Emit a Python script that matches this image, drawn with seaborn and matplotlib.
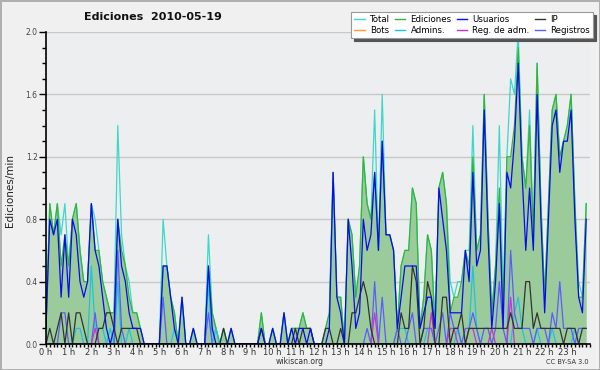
import numpy as np
import pandas as pd
import matplotlib
matplotlib.use('Agg')
import matplotlib.pyplot as plt
import seaborn as sns
from matplotlib.lines import Line2D
from matplotlib.ticker import MultipleLocator, FixedLocator

# franjas de 10 minutos (0 h 00 ... 23 h 50), valores en ediciones/min
minutos = np.arange(0, 24 * 60, 10)
horas_etiquetas = [f'{h} h' for h in range(24)]

total = [
    0.1, 0.9, 0.7, 0.9, 0.7, 0.9,   # 0 h
    0.5, 0.8, 0.9, 0.6, 0.4, 0.4,   # 1 h
    0.9, 0.8, 0.6, 0.4, 0.3, 0.2,   # 2 h
    0.2, 1.4, 0.7, 0.5, 0.4, 0.2,   # 3 h
    0.2, 0.1, 0.0, 0.0, 0.0, 0.0,   # 4 h
    0.0, 0.8, 0.5, 0.3, 0.2, 0.0,   # 5 h
    0.3, 0.0, 0.0, 0.1, 0.0, 0.0,   # 6 h
    0.0, 0.7, 0.2, 0.1, 0.0, 0.1,   # 7 h
    0.0, 0.1, 0.0, 0.0, 0.0, 0.0,   # 8 h
    0.0, 0.0, 0.0, 0.2, 0.0, 0.0,   # 9 h
    0.1, 0.0, 0.0, 0.2, 0.0, 0.1,   # 10 h
    0.1, 0.1, 0.2, 0.1, 0.1, 0.0,   # 11 h
    0.0, 0.0, 0.1, 0.2, 1.1, 0.3,   # 12 h
    0.3, 0.0, 0.8, 0.7, 0.3, 0.5,   # 13 h
    1.2, 0.9, 0.8, 1.5, 0.6, 1.6,   # 14 h
    0.7, 0.7, 0.6, 0.1, 0.5, 0.6,   # 15 h
    0.6, 1.0, 0.9, 0.1, 0.3, 0.7,   # 16 h
    0.6, 0.1, 1.0, 1.1, 0.9, 0.4,   # 17 h
    0.3, 0.4, 0.4, 0.6, 0.6, 1.4,   # 18 h
    0.6, 0.7, 1.6, 0.8, 0.2, 0.5,   # 19 h
    1.4, 0.3, 1.2, 1.7, 1.6, 2.0,   # 20 h
    1.2, 1.0, 1.5, 0.7, 1.8, 0.9,   # 21 h
    0.3, 0.9, 1.5, 1.6, 1.2, 1.3,   # 22 h
    1.4, 1.6, 0.9, 0.4, 0.3, 0.9,   # 23 h
]

ediciones = [
    0.1, 0.9, 0.7, 0.9, 0.5, 0.7,
    0.5, 0.8, 0.9, 0.6, 0.4, 0.4,
    0.9, 0.6, 0.6, 0.4, 0.3, 0.2,
    0.2, 0.8, 0.6, 0.5, 0.3, 0.2,
    0.2, 0.1, 0.0, 0.0, 0.0, 0.0,
    0.0, 0.5, 0.5, 0.3, 0.2, 0.0,
    0.3, 0.0, 0.0, 0.1, 0.0, 0.0,
    0.0, 0.5, 0.2, 0.1, 0.0, 0.1,
    0.0, 0.1, 0.0, 0.0, 0.0, 0.0,
    0.0, 0.0, 0.0, 0.2, 0.0, 0.0,
    0.1, 0.0, 0.0, 0.2, 0.0, 0.1,
    0.1, 0.1, 0.2, 0.1, 0.1, 0.0,
    0.0, 0.0, 0.1, 0.2, 1.1, 0.3,
    0.3, 0.0, 0.8, 0.7, 0.3, 0.5,
    1.2, 0.9, 0.8, 1.1, 0.6, 1.3,
    0.7, 0.7, 0.6, 0.1, 0.5, 0.6,
    0.6, 1.0, 0.9, 0.1, 0.3, 0.7,
    0.6, 0.1, 1.0, 1.1, 0.9, 0.2,
    0.3, 0.3, 0.4, 0.6, 0.5, 1.2,
    0.6, 0.7, 1.6, 0.8, 0.2, 0.5,
    1.0, 0.2, 1.2, 1.2, 1.4, 1.9,
    1.2, 1.0, 1.4, 0.7, 1.8, 0.9,
    0.3, 0.9, 1.5, 1.6, 1.2, 1.3,
    1.4, 1.6, 0.9, 0.3, 0.3, 0.9,
]

usuarios = [
    0.1, 0.8, 0.7, 0.8, 0.3, 0.7,
    0.3, 0.8, 0.7, 0.4, 0.3, 0.4,
    0.9, 0.6, 0.5, 0.3, 0.1, 0.0,
    0.1, 0.8, 0.5, 0.4, 0.2, 0.1,
    0.1, 0.1, 0.0, 0.0, 0.0, 0.0,
    0.0, 0.5, 0.5, 0.3, 0.1, 0.0,
    0.3, 0.0, 0.0, 0.1, 0.0, 0.0,
    0.0, 0.5, 0.1, 0.0, 0.0, 0.0,
    0.0, 0.1, 0.0, 0.0, 0.0, 0.0,
    0.0, 0.0, 0.0, 0.1, 0.0, 0.0,
    0.1, 0.0, 0.0, 0.2, 0.0, 0.1,
    0.0, 0.1, 0.1, 0.0, 0.1, 0.0,
    0.0, 0.0, 0.0, 0.1, 1.1, 0.3,
    0.2, 0.0, 0.8, 0.5, 0.1, 0.2,
    0.8, 0.6, 0.7, 1.1, 0.6, 1.3,
    0.7, 0.7, 0.6, 0.1, 0.3, 0.5,
    0.5, 0.5, 0.5, 0.1, 0.2, 0.3,
    0.3, 0.1, 1.0, 0.8, 0.6, 0.2,
    0.2, 0.2, 0.2, 0.6, 0.4, 1.1,
    0.5, 0.6, 1.5, 0.7, 0.1, 0.4,
    0.9, 0.1, 1.1, 1.0, 1.3, 1.8,
    1.1, 0.6, 1.0, 0.6, 1.6, 0.8,
    0.2, 0.8, 1.4, 1.5, 1.1, 1.3,
    1.3, 1.5, 0.8, 0.3, 0.2, 0.8,
]

ip = [
    0.0, 0.1, 0.0, 0.1, 0.2, 0.0,
    0.2, 0.0, 0.2, 0.2, 0.1, 0.0,
    0.0, 0.0, 0.1, 0.1, 0.2, 0.2,
    0.1, 0.0, 0.1, 0.1, 0.1, 0.1,
    0.1, 0.0, 0.0, 0.0, 0.0, 0.0,
    0.0, 0.0, 0.0, 0.0, 0.0, 0.0,
    0.0, 0.0, 0.0, 0.0, 0.0, 0.0,
    0.0, 0.0, 0.0, 0.0, 0.0, 0.1,
    0.0, 0.0, 0.0, 0.0, 0.0, 0.0,
    0.0, 0.0, 0.0, 0.1, 0.0, 0.0,
    0.0, 0.0, 0.0, 0.0, 0.0, 0.0,
    0.1, 0.0, 0.1, 0.1, 0.1, 0.0,
    0.0, 0.0, 0.1, 0.1, 0.0, 0.0,
    0.1, 0.0, 0.0, 0.2, 0.2, 0.3,
    0.4, 0.3, 0.1, 0.0, 0.0, 0.0,
    0.0, 0.0, 0.0, 0.0, 0.2, 0.1,
    0.1, 0.5, 0.4, 0.0, 0.1, 0.4,
    0.3, 0.0, 0.0, 0.3, 0.3, 0.0,
    0.1, 0.1, 0.2, 0.0, 0.1, 0.1,
    0.1, 0.1, 0.1, 0.1, 0.1, 0.1,
    0.1, 0.1, 0.1, 0.2, 0.1, 0.1,
    0.1, 0.4, 0.4, 0.1, 0.2, 0.1,
    0.1, 0.1, 0.1, 0.1, 0.1, 0.0,
    0.1, 0.1, 0.1, 0.0, 0.1, 0.1,
]

bots = [
    0.0, 0.0, 0.0, 0.0, 0.0, 0.0,
    0.0, 0.0, 0.0, 0.0, 0.0, 0.0,
    0.0, 0.0, 0.0, 0.0, 0.0, 0.0,
    0.0, 0.0, 0.0, 0.0, 0.0, 0.0,
    0.0, 0.0, 0.0, 0.0, 0.0, 0.0,
    0.0, 0.0, 0.0, 0.0, 0.0, 0.0,
    0.0, 0.0, 0.0, 0.0, 0.0, 0.0,
    0.0, 0.0, 0.0, 0.0, 0.0, 0.0,
    0.0, 0.0, 0.0, 0.0, 0.0, 0.0,
    0.0, 0.0, 0.0, 0.0, 0.0, 0.0,
    0.0, 0.0, 0.0, 0.0, 0.0, 0.0,
    0.0, 0.0, 0.0, 0.0, 0.0, 0.0,
    0.0, 0.0, 0.0, 0.0, 0.0, 0.0,
    0.0, 0.0, 0.0, 0.0, 0.0, 0.0,
    0.0, 0.0, 0.0, 0.0, 0.0, 0.0,
    0.0, 0.0, 0.0, 0.0, 0.0, 0.0,
    0.0, 0.0, 0.0, 0.0, 0.0, 0.0,
    0.0, 0.0, 0.0, 0.0, 0.0, 0.0,
    0.0, 0.0, 0.0, 0.0, 0.0, 0.0,
    0.0, 0.0, 0.0, 0.0, 0.0, 0.0,
    0.0, 0.0, 0.0, 0.0, 0.0, 0.0,
    0.0, 0.0, 0.0, 0.0, 0.0, 0.0,
    0.0, 0.0, 0.0, 0.0, 0.0, 0.0,
    0.0, 0.0, 0.0, 0.0, 0.0, 0.0,
]

admins = [
    0.0, 0.0, 0.0, 0.0, 0.0, 0.0,
    0.0, 0.0, 0.1, 0.1, 0.0, 0.0,
    0.5, 0.1, 0.1, 0.1, 0.0, 0.1,
    0.0, 0.4, 0.0, 0.0, 0.1, 0.0,
    0.0, 0.0, 0.0, 0.0, 0.0, 0.0,
    0.0, 0.0, 0.0, 0.0, 0.1, 0.0,
    0.0, 0.0, 0.0, 0.0, 0.0, 0.0,
    0.0, 0.4, 0.0, 0.1, 0.0, 0.0,
    0.0, 0.0, 0.0, 0.0, 0.0, 0.0,
    0.0, 0.0, 0.0, 0.0, 0.0, 0.0,
    0.0, 0.0, 0.0, 0.0, 0.0, 0.0,
    0.0, 0.0, 0.0, 0.0, 0.0, 0.0,
    0.0, 0.0, 0.0, 0.0, 0.0, 0.0,
    0.0, 0.0, 0.0, 0.0, 0.0, 0.0,
    0.0, 0.0, 0.0, 0.0, 0.0, 0.0,
    0.0, 0.0, 0.0, 0.1, 0.1, 0.1,
    0.0, 0.0, 0.0, 0.0, 0.0, 0.1,
    0.1, 0.0, 0.0, 0.0, 0.0, 0.0,
    0.0, 0.1, 0.0, 0.0, 0.1, 0.5,
    0.1, 0.0, 0.0, 0.0, 0.0, 0.0,
    0.0, 0.0, 0.0, 0.0, 0.2, 0.3,
    0.1, 0.0, 0.0, 0.0, 0.1, 0.0,
    0.0, 0.0, 0.1, 0.0, 0.0, 0.0,
    0.0, 0.0, 0.1, 0.0, 0.0, 0.0,
]

reg_adm = [
    0.0, 0.0, 0.0, 0.0, 0.0, 0.0,
    0.0, 0.0, 0.0, 0.0, 0.0, 0.0,
    0.0, 0.1, 0.0, 0.0, 0.0, 0.0,
    0.0, 0.0, 0.0, 0.0, 0.0, 0.0,
    0.0, 0.0, 0.0, 0.0, 0.0, 0.0,
    0.0, 0.0, 0.0, 0.0, 0.0, 0.0,
    0.0, 0.0, 0.0, 0.0, 0.0, 0.0,
    0.0, 0.0, 0.0, 0.0, 0.0, 0.0,
    0.0, 0.0, 0.0, 0.0, 0.0, 0.0,
    0.0, 0.0, 0.0, 0.0, 0.0, 0.0,
    0.0, 0.0, 0.0, 0.0, 0.0, 0.0,
    0.0, 0.0, 0.0, 0.0, 0.0, 0.0,
    0.0, 0.0, 0.0, 0.0, 0.0, 0.0,
    0.0, 0.0, 0.0, 0.0, 0.0, 0.0,
    0.0, 0.0, 0.0, 0.2, 0.0, 0.0,
    0.0, 0.0, 0.0, 0.0, 0.0, 0.0,
    0.0, 0.0, 0.0, 0.0, 0.0, 0.0,
    0.2, 0.0, 0.0, 0.0, 0.0, 0.1,
    0.1, 0.0, 0.0, 0.0, 0.1, 0.1,
    0.0, 0.0, 0.0, 0.0, 0.1, 0.0,
    0.0, 0.0, 0.0, 0.3, 0.0, 0.0,
    0.0, 0.0, 0.0, 0.0, 0.0, 0.0,
    0.0, 0.0, 0.0, 0.0, 0.0, 0.0,
    0.0, 0.0, 0.0, 0.0, 0.0, 0.0,
]

registros = [
    0.0, 0.0, 0.0, 0.0, 0.2, 0.2,
    0.0, 0.0, 0.0, 0.0, 0.0, 0.0,
    0.0, 0.2, 0.0, 0.0, 0.0, 0.0,
    0.0, 0.6, 0.1, 0.0, 0.0, 0.0,
    0.0, 0.0, 0.0, 0.0, 0.0, 0.0,
    0.0, 0.3, 0.0, 0.0, 0.0, 0.0,
    0.0, 0.0, 0.0, 0.0, 0.0, 0.0,
    0.0, 0.2, 0.0, 0.0, 0.0, 0.0,
    0.0, 0.0, 0.0, 0.0, 0.0, 0.0,
    0.0, 0.0, 0.0, 0.0, 0.0, 0.0,
    0.0, 0.0, 0.0, 0.0, 0.0, 0.0,
    0.0, 0.0, 0.0, 0.0, 0.0, 0.0,
    0.0, 0.0, 0.0, 0.0, 0.0, 0.0,
    0.0, 0.0, 0.0, 0.0, 0.0, 0.0,
    0.0, 0.1, 0.0, 0.4, 0.0, 0.3,
    0.0, 0.0, 0.0, 0.1, 0.0, 0.0,
    0.1, 0.2, 0.0, 0.0, 0.1, 0.1,
    0.1, 0.0, 0.1, 0.2, 0.0, 0.2,
    0.1, 0.1, 0.0, 0.1, 0.1, 0.2,
    0.1, 0.0, 0.1, 0.1, 0.0, 0.1,
    0.4, 0.1, 0.0, 0.6, 0.2, 0.1,
    0.1, 0.1, 0.1, 0.0, 0.1, 0.1,
    0.1, 0.0, 0.2, 0.1, 0.4, 0.1,
    0.1, 0.1, 0.0, 0.1, 0.1, 0.1,
]

# (etiqueta, datos, color, zorder)
series = [
    ('Bots', bots, '#ff9a2e', 1.5),
    ('Total', total, '#3fd6cb', 2),
    ('Ediciones', ediciones, '#35b535', 3),
    ('Admins.', admins, '#1fc3dc', 4),
    ('Registros', registros, '#5c5cff', 4.2),
    ('Reg. de adm.', reg_adm, '#cc33cc', 4.4),
    ('IP', ip, '#333333', 4.6),
    ('Usuarios', usuarios, '#0a0aee', 5),
]
colores = {nombre: color for nombre, _, color, _ in series}

df = pd.DataFrame({'hora': minutos / 60})
for nombre, datos, _, _ in series:
    df[nombre] = datos

fig = plt.figure(figsize=(6, 3.7), dpi=100, facecolor='#f0f0f0',
                 edgecolor='#b0b0b0', linewidth=2)
ax = fig.add_axes([46 / 600, 26 / 370, 544 / 600, 312 / 370])
ax.set_facecolor('#edeef0')

ax.fill_between(df['hora'], df['Ediciones'], color='#9bcb9b', lw=0, zorder=1)
for nombre, _, color, z in series:
    sns.lineplot(data=df, x='hora', y=nombre, color=color, lw=0.9,
                 zorder=z, ax=ax, legend=False)

ax.set_xlim(0, 24)
ax.set_ylim(0, 2.0)
ax.set_xlabel('')
ax.set_ylabel('')

ax.yaxis.set_major_locator(MultipleLocator(0.4))
ax.yaxis.set_minor_locator(MultipleLocator(0.1))
ax.yaxis.set_major_formatter(matplotlib.ticker.FormatStrFormatter('%.1f'))
ax.xaxis.set_major_locator(FixedLocator(range(24)))
ax.set_xticklabels(horas_etiquetas)
ax.xaxis.set_minor_locator(MultipleLocator(1 / 6))

ax.grid(axis='y', which='major', color='#c8c8c8', lw=1, zorder=0)
ax.set_axisbelow(True)
ax.tick_params(axis='y', which='major', length=5, width=1, labelsize=5.5,
               labelcolor='#444444', pad=1)
ax.tick_params(axis='y', which='minor', length=2.8, width=1)
ax.tick_params(axis='x', which='major', length=2.5, width=1, labelsize=6,
               labelcolor='#333333', pad=0.5)
ax.tick_params(axis='x', which='minor', length=1.8, width=1)

for lado in ('top', 'right'):
    ax.spines[lado].set_visible(False)
for lado in ('left', 'bottom'):
    ax.spines[lado].set_color('black')
    ax.spines[lado].set_linewidth(1.2)
    ax.spines[lado].set_zorder(10)

orden = ['Total', 'Bots', 'Ediciones', 'Admins.', 'Usuarios',
         'Reg. de adm.', 'IP', 'Registros']
manijas = [Line2D([0], [0], color=colores[n], lw=1) for n in orden]
leg = fig.legend(manijas, orden, ncol=4, loc='upper right',
                 bbox_to_anchor=(593 / 600, 1 - 12 / 370), borderaxespad=0,
                 fontsize=6.2, frameon=True, fancybox=False, framealpha=1,
                 edgecolor='#999999', facecolor='white',
                 shadow={'color': '#555555', 'alpha': 1.0},
                 handlelength=1.2, handletextpad=0.6, columnspacing=0.6,
                 labelspacing=0.2, borderpad=0.35)
leg.get_frame().set_linewidth(0.8)

fig.text(153 / 600, 1 - 17 / 370, 'Ediciones  2010-05-19', fontsize=8,
         fontweight='bold', ha='center', va='center', color='#111111')
fig.text(10 / 600, 1 - 191 / 370, 'Ediciones/min', rotation=90, fontsize=7.5,
         ha='center', va='center', color='#222222')
fig.text(300 / 600, 1 - 362 / 370, 'wikiscan.org', fontsize=5.5,
         ha='center', va='center', color='#333333')
fig.text(589 / 600, 1 - 362 / 370, 'CC BY-SA 3.0', fontsize=4.8,
         ha='right', va='center', color='#333333')

fig.savefig('out.png', dpi=100, facecolor=fig.get_facecolor(),
            edgecolor=fig.get_edgecolor())
